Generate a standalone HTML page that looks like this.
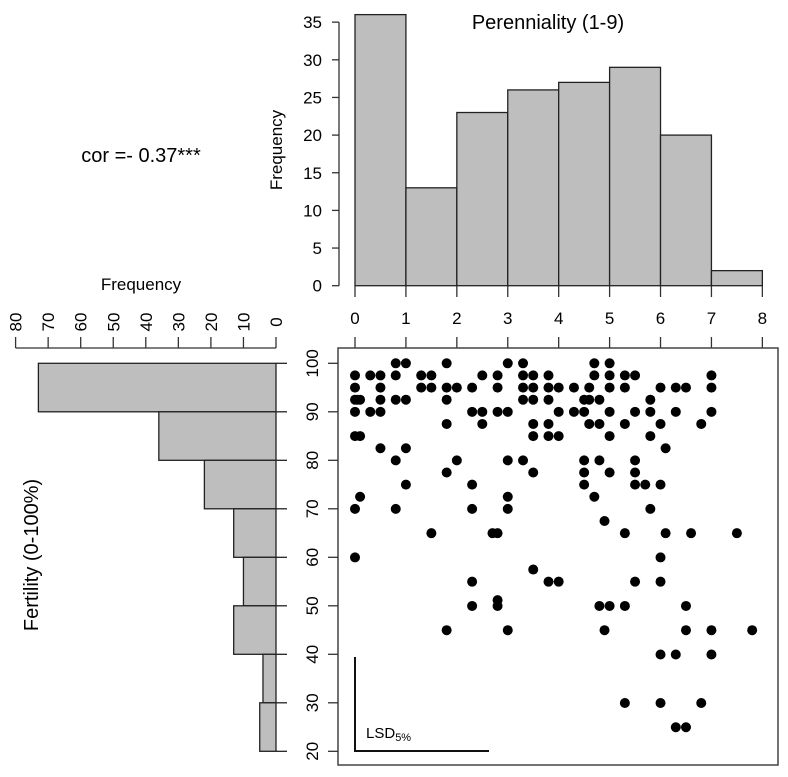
<!DOCTYPE html>
<html><head><meta charset="utf-8"><style>
html,body{margin:0;padding:0;background:#fff;}
svg{display:block;font-family:"Liberation Sans",Arial,sans-serif;}
</style></head><body>
<svg id="chart" width="788" height="777" viewBox="0 0 788 777" xmlns="http://www.w3.org/2000/svg">
<text x="548" y="29" font-size="20" text-anchor="middle">Perenniality (1-9)</text>
<text x="141" y="162" font-size="20" text-anchor="middle">cor =- 0.37***</text>
<text x="141" y="290" font-size="17" text-anchor="middle">Frequency</text>
<text transform="translate(282,150) rotate(-90)" font-size="17" text-anchor="middle">Frequency</text>
<text transform="translate(38,555) rotate(-90)" font-size="20" text-anchor="middle">Fertility (0-100%)</text>
<g id="g-top"></g>
<g id="g-left"></g>
<g id="g-scatter"></g>
<g>
<line x1="355" y1="657" x2="355" y2="751" stroke="#111" stroke-width="2"/>
<line x1="354" y1="751" x2="489" y2="751" stroke="#111" stroke-width="2"/>
<text x="366" y="738" font-size="15">LSD<tspan font-size="11" dy="3">5%</tspan></text>
</g>
</svg>
<script>
// Top histogram (perenniality)
const perBins = [0,1,2,3,4,5,6,7];
const perCounts = [36,13,23,26,27,29,20,2];
const perTicks = [0,1,2,3,4,5,6,7,8];
const topFreqTicks = [0,5,10,15,20,25,30,35];
// Left histogram (fertility)
const fertBins = [90,80,70,60,50,40,30,20];
const fertCounts = [73,36,22,13,10,13,4,5];
const leftFreqTicks = [0,10,20,30,40,50,60,70,80];
const fertTicks = [20,30,40,50,60,70,80,90,100];
// Scatter points
const ptX = [0.8,1.0,1.8,3.0,3.3,4.7,5.0,
 0,0.3,0.5,0.8,1.3,1.5,2.5,2.8,3.3,3.5,3.8,4.7,5.0,5.3,5.5,7.0,
 0,0.5,1.3,1.5,1.8,2.0,2.3,2.8,3.3,3.5,3.8,4.0,4.3,4.6,5.0,5.3,6.0,6.3,6.5,7.0,
 0,0.05,0.1,0.5,0.8,1.0,1.8,3.3,3.5,3.8,4.5,4.6,4.8,5.8,
 0,0.3,0.5,2.3,2.5,2.8,3.0,4.0,4.3,4.5,5.0,5.5,5.8,6.3,7.0,
 1.8,2.5,3.5,3.8,4.6,4.8,5.3,6.0,6.8,
 0,0.1,3.5,3.8,4.0,5.0,5.8,
 0.5,1.0,6.1,
 0.8,2.0,3.0,3.3,4.5,4.8,5.5,
 1.8,3.5,4.5,5.0,5.5,
 1.0,2.3,4.5,5.5,5.7,6.0,
 0.1,3.0,4.7,
 0,0.8,2.3,3.0,5.8,
 4.9,
 1.5,2.7,2.8,5.3,6.1,6.6,7.5,
 0,6.0,
 3.5,
 2.3,3.8,4.0,5.5,6.0,
 2.8,
 2.3,2.8,4.8,5.0,5.3,6.5,
 1.8,3.0,4.9,6.5,7.0,7.8,
 6.0,6.3,7.0,
 5.3,6.0,6.8,
 6.3,6.5];
const ptY = [100,100,100,100,100,100,100,
 97.5,97.5,97.5,97.5,97.5,97.5,97.5,97.5,97.5,97.5,97.5,97.5,97.5,97.5,97.5,97.5,
 95,95,95,95,95,95,95,95,95,95,95,95,95,95,95,95,95,95,95,95,
 92.5,92.5,92.5,92.5,92.5,92.5,92.5,92.5,92.5,92.5,92.5,92.5,92.5,92.5,
 90,90,90,90,90,90,90,90,90,90,90,90,90,90,90,
 87.5,87.5,87.5,87.5,87.5,87.5,87.5,87.5,87.5,
 85,85,85,85,85,85,85,
 82.5,82.5,82.5,
 80,80,80,80,80,80,80,
 77.5,77.5,77.5,77.5,77.5,
 75,75,75,75,75,75,
 72.5,72.5,72.5,
 70,70,70,70,70,
 67.5,
 65,65,65,65,65,65,65,
 60,60,
 57.5,
 55,55,55,55,55,
 51.2,
 50,50,50,50,50,50,
 45,45,45,45,45,45,
 40,40,40,
 30,30,30,
 25,25];

const NS = "http://www.w3.org/2000/svg";
function mk(parent, tag, attrs){ const e=document.createElementNS(NS,tag); for(const k in attrs) e.setAttribute(k,attrs[k]); parent.appendChild(e); return e; }
// axis functions
const px = v => 355 + v*50.92;
const topY = f => 285.7 - f*7.53;
const leftX = f => 276 - f*3.255;
const histY = v => 363.3 + (100-v)*4.85;
const tickY = v => 363.3 + (100-v)*4.85;
const ptYs = v => 363.3 + (100-v)*4.853;

// top histogram
const gt = document.getElementById('g-top');
perBins.forEach((b,i)=>{
  const r = mk(gt,'rect',{x:px(b),y:topY(perCounts[i]),width:px(b+1)-px(b),height:topY(0)-topY(perCounts[i]),fill:'#bebebe',stroke:'#222','stroke-width':1.3});
  
  
});
mk(gt,'line',{x1:339,y1:topY(35),x2:339,y2:topY(0),stroke:'#333','stroke-width':1.3});
topFreqTicks.forEach(t=>{
  mk(gt,'line',{x1:332,y1:topY(t),x2:339,y2:topY(t),stroke:'#333','stroke-width':1.3});
  const tx = mk(gt,'text',{x:322,y:topY(t)+6,'font-size':17,'text-anchor':'end'});
  tx.textContent = t;
  
  
});
perTicks.forEach(t=>{
  mk(gt,'line',{x1:px(t),y1:286,x2:px(t),y2:297,stroke:'#333','stroke-width':1.3});
  mk(gt,'line',{x1:px(t),y1:337,x2:px(t),y2:348,stroke:'#333','stroke-width':1.3});
  const tx = mk(gt,'text',{x:px(t),y:324,'font-size':17,'text-anchor':'middle'});
  tx.textContent = t;
  
  
});

// left histogram
const gl = document.getElementById('g-left');
fertBins.forEach((b,i)=>{
  const r = mk(gl,'rect',{x:leftX(fertCounts[i]),y:histY(b+10),width:leftX(0)-leftX(fertCounts[i]),height:histY(b)-histY(b+10),fill:'#bebebe',stroke:'#222','stroke-width':1.3});
  
  
  mk(gl,'line',{x1:276,y1:histY(b),x2:287,y2:histY(b),stroke:'#222','stroke-width':1.3});
});
mk(gl,'line',{x1:276,y1:histY(100),x2:287,y2:histY(100),stroke:'#222','stroke-width':1.3});
mk(gl,'line',{x1:leftX(80),y1:348,x2:leftX(0),y2:348,stroke:'#333','stroke-width':1.3});
leftFreqTicks.forEach(t=>{
  mk(gl,'line',{x1:leftX(t),y1:337,x2:leftX(t),y2:348,stroke:'#333','stroke-width':1.3});
  const tx = mk(gl,'text',{transform:`translate(${leftX(t)+6},322) rotate(-90)`,'font-size':17,'text-anchor':'middle'});
  tx.textContent = t;
  
  
});

// scatter
const gs = document.getElementById('g-scatter');
mk(gs,'rect',{x:338,y:348,width:440,height:417,fill:'none',stroke:'#444','stroke-width':1.5});
fertTicks.forEach(t=>{
  mk(gs,'line',{x1:328,y1:tickY(t),x2:338,y2:tickY(t),stroke:'#333','stroke-width':1.3});
  const tx = mk(gs,'text',{transform:`translate(318,${tickY(t)}) rotate(-90)`,'font-size':17,'text-anchor':'middle'});
  tx.textContent = t;
  
  
});
ptX.forEach((x,i)=>{
  const c = mk(gs,'circle',{cx:px(x),cy:ptYs(ptY[i]),r:5,fill:'#000'});
  
  
});
</script>
</body></html>
